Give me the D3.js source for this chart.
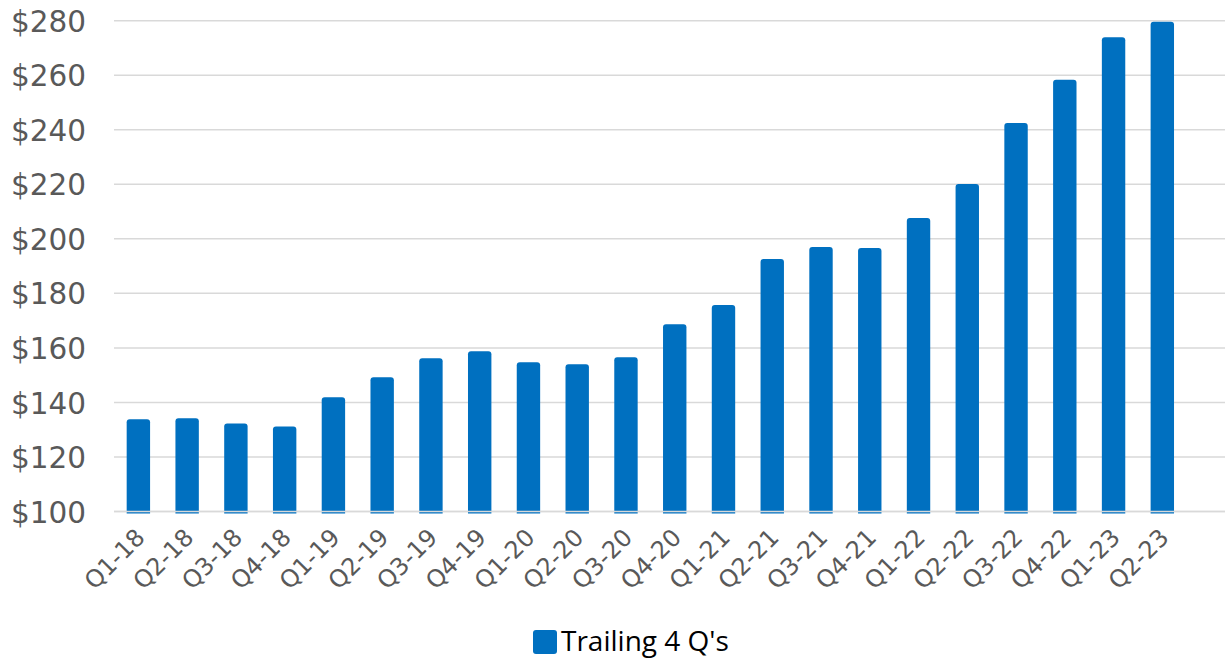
<!DOCTYPE html>
<html>
<head>
<meta charset="utf-8">
<script src="https://cdn.jsdelivr.net/npm/d3@7/dist/d3.min.js"></script>
<style>
  html, body { margin: 0; padding: 0; background: #fff; }
  svg { display: block; }
</style>
</head>
<body>
<svg id="chart" width="1225" height="661"></svg>
<script>
// Quarter labels and trailing four-quarter values
const quarters = ["Q1-18","Q2-18","Q3-18","Q4-18","Q1-19","Q2-19","Q3-19","Q4-19",
  "Q1-20","Q2-20","Q3-20","Q4-20","Q1-21","Q2-21","Q3-21","Q4-21",
  "Q1-22","Q2-22","Q3-22","Q4-22","Q1-23","Q2-23"];
const trailing4Q = [133.8, 134.2, 132.3, 131.2, 141.9, 149.2, 156.2, 158.8,
  154.7, 154.0, 156.6, 168.7, 175.7, 192.6, 197.0, 196.6,
  207.6, 220.1, 242.5, 258.3, 273.9, 279.6];
const yTicks = [100, 120, 140, 160, 180, 200, 220, 240, 260, 280];
const seriesName = "Trailing 4 Q's";

const svg = d3.select("#chart");
const barColor = "#0070C0";
const gridLeft = 114, gridRight = 1225;

const x = d3.scaleBand()
  .domain(quarters)
  .range([114, 1186.7])
  .paddingInner(0.52)
  .paddingOuter(0.26);

const y = d3.scaleLinear().domain([100, 280]).range([511.5, 20.7]);

// Horizontal gridlines
svg.append("g")
  .selectAll("line")
  .data(yTicks)
  .join("line")
  .attr("x1", gridLeft).attr("x2", gridRight)
  .attr("y1", d => y(d)).attr("y2", d => y(d))
  .attr("stroke", "#d9d9d9")
  .attr("stroke-width", 1.5);

// Y tick labels
const yAxis = d3.axisLeft(y).tickValues(yTicks).tickFormat(d => "$" + d).tickSize(0).tickPadding(0);
const gy = svg.append("g").attr("transform", "translate(86,0)").call(yAxis);
gy.select(".domain").remove();
gy.selectAll("text")
  .attr("font-family", "DejaVu Sans, sans-serif")
  .attr("font-size", 29.5)
  .attr("fill", "#595959")
  .attr("dy", "0.36em");

// Bars (start a little below the baseline, like the source rendering)
const bottom = y(100) + 2;
svg.append("g")
  .selectAll("path")
  .data(quarters.map((q, i) => ({ q, v: trailing4Q[i] })))
  .join("path")
  .attr("fill", barColor)
  .attr("d", d => {
    const x0 = x(d.q), w = x.bandwidth(), top = y(d.v), r = 3;
    return `M${x0},${bottom} L${x0},${top + r} Q${x0},${top} ${x0 + r},${top} ` +
           `L${x0 + w - r},${top} Q${x0 + w},${top} ${x0 + w},${top + r} L${x0 + w},${bottom} Z`;
  });

// Baseline drawn over the bars
svg.append("line")
  .attr("x1", gridLeft).attr("x2", gridRight)
  .attr("y1", y(100)).attr("y2", y(100))
  .attr("stroke", "#d9d9d9").attr("stroke-width", 1.5);

// X tick labels, rotated
const xAxis = d3.axisBottom(x).tickSize(0).tickPadding(0);
const gx = svg.append("g").call(xAxis);
gx.select(".domain").remove();
gx.selectAll(".tick").attr("transform", d => `translate(${x(d) + x.bandwidth() / 2 + 2},533)`);
gx.selectAll("text")
  .attr("font-family", "DejaVu Sans, sans-serif")
  .attr("font-size", 24)
  .attr("fill", "#595959")
  .attr("text-anchor", "end")
  .attr("x", 0).attr("y", 0)
  .attr("dy", "0.35em")
  .attr("transform", "rotate(-45)");

// Legend
const legend = svg.append("g").attr("transform", "translate(533,630)");
legend.append("rect")
  .attr("width", 24).attr("height", 24).attr("rx", 3)
  .attr("fill", barColor);
legend.append("text")
  .attr("x", 28).attr("y", 20.5)
  .attr("font-family", "Open Sans, sans-serif")
  .attr("font-size", 28)
  .attr("fill", "#000")
  .text(seriesName);
</script>
</body>
</html>
